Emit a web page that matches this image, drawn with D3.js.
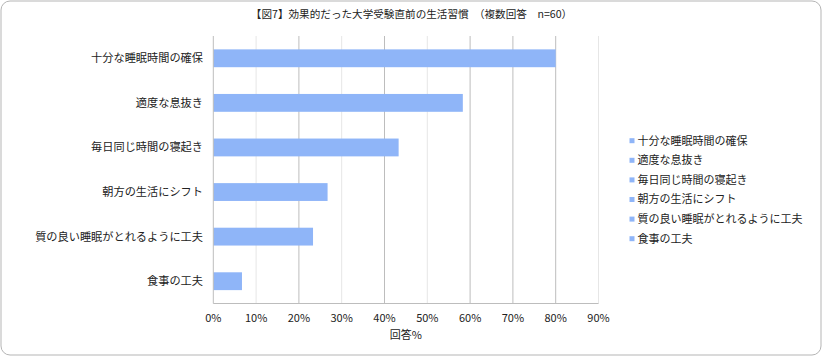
<!DOCTYPE html>
<html><head><meta charset="utf-8">
<script src="https://cdn.jsdelivr.net/npm/d3@7"></script>
<style>
html,body{margin:0;padding:0;background:#fff;}
svg{display:block;}
text{font-family:"Noto Sans CJK JP","Noto Sans",sans-serif;fill:#222;}
</style></head>
<body>
<svg id="c" width="822" height="358"></svg>
<script>
const title = "【図7】効果的だった大学受験直前の生活習慣　（複数回答　n=60）";
const categories = ["十分な睡眠時間の確保","適度な息抜き","毎日同じ時間の寝起き","朝方の生活にシフト","質の良い睡眠がとれるように工夫","食事の工夫"];
const values = [80.0, 58.3, 43.3, 26.7, 23.3, 6.7];
const ticks = [0,10,20,30,40,50,60,70,80,90];
const xTitle = "回答%";

const svg = d3.select("#c");
const color = "#8fb5f8";
const m = {l:213.3, r:598.5, t:36, b:303.5};

svg.append("rect").attr("x",1).attr("y",1).attr("width",820).attr("height",354)
  .attr("rx",9).attr("fill","#fff").attr("stroke","#b5b5b5").attr("stroke-width",1);

const x = d3.scaleLinear().domain([0,90]).range([m.l,m.r]);
const y = d3.scaleBand().domain(categories).range([m.t,m.b]).paddingInner(0.6).paddingOuter(0.3);

// gridlines
svg.append("g").selectAll("line").data(ticks.slice(1)).join("line")
  .attr("x1",d=>x(d)).attr("x2",d=>x(d)).attr("y1",m.t).attr("y2",m.b)
  .attr("stroke",(d,i)=> (d%20===0||d===70) ? "#bdbdbd" : "#e6e6e6").attr("stroke-width",1);

// bars
svg.append("g").selectAll("rect").data(categories).join("rect")
  .attr("x",x(0)).attr("y",d=>y(d)).attr("height",y.bandwidth())
  .attr("width",(d,i)=>x(values[i])-x(0)).attr("fill",color);

// axes lines
svg.append("line").attr("x1",m.l).attr("x2",m.l).attr("y1",m.t).attr("y2",m.b).attr("stroke","#bdbdbd");
svg.append("line").attr("x1",m.l).attr("x2",m.r).attr("y1",m.b).attr("y2",m.b).attr("stroke","#bdbdbd");

// category labels
svg.append("g").selectAll("text").data(categories).join("text")
  .attr("x",203).attr("y",d=>y(d)+y.bandwidth()/2).attr("dy","0.35em")
  .attr("text-anchor","end").attr("font-size","11.2px").text(d=>d);

// tick labels
svg.append("g").selectAll("text").data(ticks).join("text")
  .attr("x",d=>x(d)).attr("y",318).attr("dy","0.35em").attr("text-anchor","middle")
  .attr("font-size","11px").text(d=>d+"%");

svg.append("text").attr("x",(m.l+m.r)/2).attr("y",335).attr("dy","0.35em")
  .attr("text-anchor","middle").attr("font-size","11px").text(xTitle);

svg.append("text").attr("x",411.5).attr("y",14.5).attr("dy","0.35em")
  .attr("text-anchor","middle").attr("font-size","10.6px").text(title);

// legend
const lg = svg.append("g");
categories.forEach((c,i)=>{
  const yy = 140.7 + i*19.6;
  lg.append("rect").attr("x",629.5).attr("y",yy-2.5).attr("width",5).attr("height",5).attr("fill",color);
  lg.append("text").attr("x",637.5).attr("y",yy).attr("dy","0.35em").attr("font-size","11px").text(c);
});
</script>
</body></html>
